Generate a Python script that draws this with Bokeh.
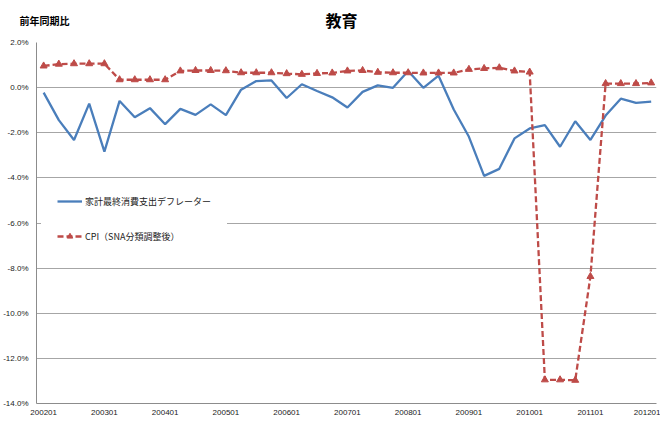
from bokeh.plotting import figure
from bokeh.models import (FixedTicker, Legend, LegendItem, Range1d)
from bokeh.layouts import column, row
from bokeh.core.properties import value
from bokeh.embed import file_html
from bokeh.resources import INLINE

# quarterly periods 2002Q1 .. 2012Q1
periods = [f"{y}{q:02d}" for y in range(2002, 2013) for q in range(1, 5)][:41]
tick_labels = ["200201", "200301", "200401", "200501", "200601", "200701",
               "200801", "200901", "201001", "201101", "201201"]

deflator = [-0.22, -1.44, -2.32, -0.71, -2.84, -0.59, -1.31, -0.91, -1.62, -0.94,
            -1.21, -0.74, -1.22, -0.09, 0.29, 0.32, -0.46, 0.15, -0.15, -0.43,
            -0.88, -0.19, 0.10, -0.01, 0.74, -0.01, 0.53, -0.97, -2.18, -3.91,
            -3.60, -2.25, -1.81, -1.66, -2.62, -1.49, -2.32, -1.24, -0.49, -0.68,
            -0.62]
cpi = [0.96, 1.04, 1.06, 1.06, 1.06, 0.35, 0.35, 0.35, 0.35, 0.74,
       0.76, 0.76, 0.75, 0.66, 0.66, 0.66, 0.62, 0.59, 0.63, 0.65,
       0.74, 0.76, 0.68, 0.66, 0.66, 0.65, 0.65, 0.65, 0.81, 0.85,
       0.88, 0.74, 0.69, -12.95, -12.95, -12.97, -8.37, 0.18, 0.18, 0.18,
       0.21]
y_ticks = [2, 0, -2, -4, -6, -8, -10, -12, -14]
title_text = "教育"
unit_text = "前年同期比"

xs = list(range(len(periods)))
JP = "Noto Sans CJK JP"
W = 660

# ---- header (title + unit label) ----
HH = 37
hdr = figure(width=W, height=HH, output_backend="svg", toolbar_location=None,
             x_range=Range1d(0, W), y_range=Range1d(0, HH),
             x_axis_type=None, y_axis_type=None,
             min_border_left=0, min_border_right=0, min_border_top=0,
             min_border_bottom=0)
hdr.outline_line_color = None
hdr.xgrid.grid_line_color = None
hdr.ygrid.grid_line_color = None
hdr.text(x=[341], y=[HH - 19], text=[title_text], text_font=value(JP),
         text_font_size="16px", text_font_style="bold", text_color="#000000",
         text_align="center", text_baseline="middle")
hdr.text(x=[19], y=[HH - 20], text=[unit_text], text_font=value(JP),
         text_font_size="10px", text_font_style="bold", text_color="#000000",
         text_align="left", text_baseline="middle")

# ---- main chart ----
p = figure(width=W, height=382, output_backend="svg", toolbar_location=None,
           x_range=Range1d(-0.47, 40.35), y_range=Range1d(-14, 2),
           min_border_left=36, min_border_right=4, min_border_top=5,
           min_border_bottom=16)
p.outline_line_color = None
p.background_fill_color = "white"
p.border_fill_color = "white"

p.xaxis.ticker = FixedTicker(ticks=[xs[periods.index(t)] for t in tick_labels])
p.xaxis.major_label_overrides = {xs[periods.index(t)]: t for t in tick_labels}
p.yaxis.ticker = FixedTicker(ticks=y_ticks)
p.yaxis.major_label_overrides = {v: f"{v:.1f}%" for v in y_ticks}
for ax in (p.xaxis, p.yaxis):
    ax.major_tick_out = 0
    ax.major_tick_in = 0
    ax.minor_tick_out = 0
    ax.minor_tick_in = 0
    ax.axis_line_color = "#8c8c8c"
    ax.major_label_text_font = "Liberation Sans"
    ax.major_label_text_font_size = "8px"
    ax.major_label_text_color = "#222222"
p.yaxis.major_label_standoff = 8
p.xaxis.major_label_standoff = 6

p.xgrid.grid_line_color = None
p.ygrid.grid_line_color = "#a6a6a6"
p.ygrid.grid_line_width = 1

l1 = p.line(xs, deflator, line_color="#4a7ebb", line_width=2.3)
l2 = p.line(xs, cpi, line_color="#be4b48", line_width=2.3, line_dash="6 3")
s2 = p.scatter(xs, cpi, marker="triangle", size=7, fill_color="#be4b48",
               line_color="#be4b48")

legend = Legend(items=[LegendItem(label="家計最終消費支出デフレーター", renderers=[l1]),
                       LegendItem(label="CPI（SNA分類調整後）", renderers=[l2, s2])],
                location=(5, 144), spacing=21, glyph_width=25, glyph_height=14,
                label_text_font=JP, label_text_font_size="9px",
                label_text_color="#222222", border_line_color="white",
                border_line_alpha=1.0,
                background_fill_color="white", background_fill_alpha=1.0,
                padding=15, margin=0, label_standoff=3)
p.add_layout(legend, "center")

layout = column(row(hdr), p, spacing=0)
open("out.html", "w").write(file_html(layout, INLINE))
